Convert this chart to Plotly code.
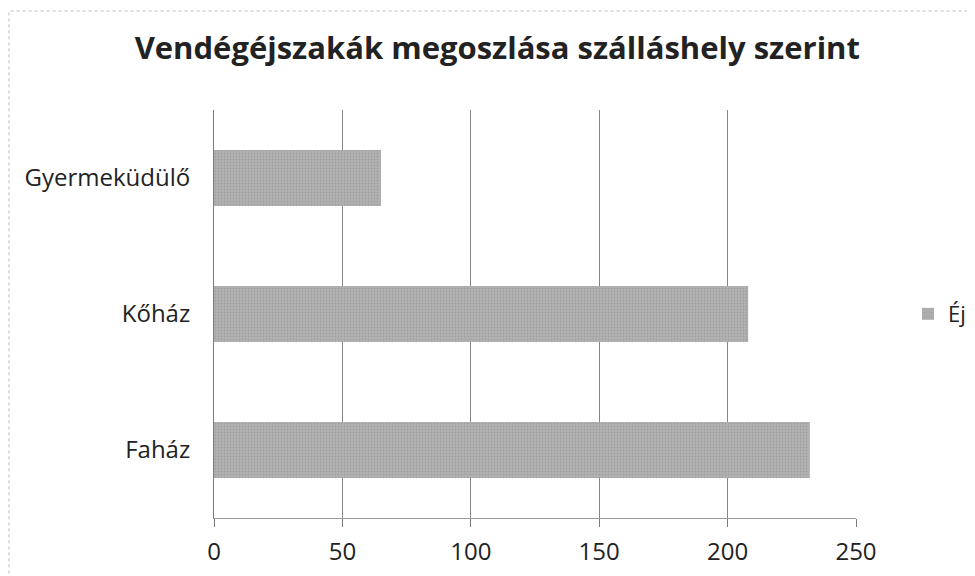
import plotly.graph_objects as go

categories = ["Faház", "Kőház", "Gyermeküdülő"]
values = [232, 208, 65]
series_name = "Éj"
x_ticks = [0, 50, 100, 150, 200, 250]

FONT = "Open Sans, Liberation Sans, sans-serif"

W, H = 967, 568
L, R, T, B = 206, 119, 102, 58
PW, PH = W - L - R, H - T - B

fig = go.Figure()
fig.add_trace(go.Bar(
    y=categories, x=values, orientation="h", name=series_name,
    marker=dict(color="#a9a9a9", line=dict(width=0),
                pattern=dict(shape=".", fgcolor="#8c8c8c", bgcolor="#b2b2b2", size=3, solidity=0.3)),
    showlegend=True,
))

fig.update_layout(
    width=W, height=H,
    paper_bgcolor="white", plot_bgcolor="white",
    margin=dict(l=L, r=R, t=T, b=B, autoexpand=False),
    title=dict(text="<b>Vendégéjszakák megoszlása szálláshely szerint</b>",
               x=0.506, xanchor="center", y=1 - 40 / H, yanchor="middle",
               font=dict(family=FONT, size=31, color="#222")),
    bargap=0.59,
    showlegend=True,
    legend=dict(x=1.081, y=0.5, xanchor="left", yanchor="middle",
                font=dict(family=FONT, size=22, color="#222"),
                bgcolor="rgba(0,0,0,0)", itemwidth=30),
    font=dict(family=FONT, size=24, color="#222"),
)
fig.update_xaxes(range=[0, 250], tickvals=x_ticks, showgrid=True, gridcolor="#858585",
                 gridwidth=1, showline=True, linecolor="#9a9a9a",
                 ticks="outside", ticklen=8, tickcolor="#7a7a7a", zeroline=False,
                 tickfont=dict(size=24), ticklabelstandoff=4, automargin=False)
fig.update_yaxes(showline=True, linecolor="#7a7a7a", ticks="",
                 tickfont=dict(size=24), ticklabelstandoff=18, automargin=False)
fig.add_shape(type="rect", xref="paper", yref="paper",
              x0=(1 - L) / PW, x1=(960 - L) / PW, y0=-0.2, y1=(PH + T - 3) / PH,
              line=dict(color="#bbbbbb", width=1, dash="dot"))
fig.write_html("out.html")
